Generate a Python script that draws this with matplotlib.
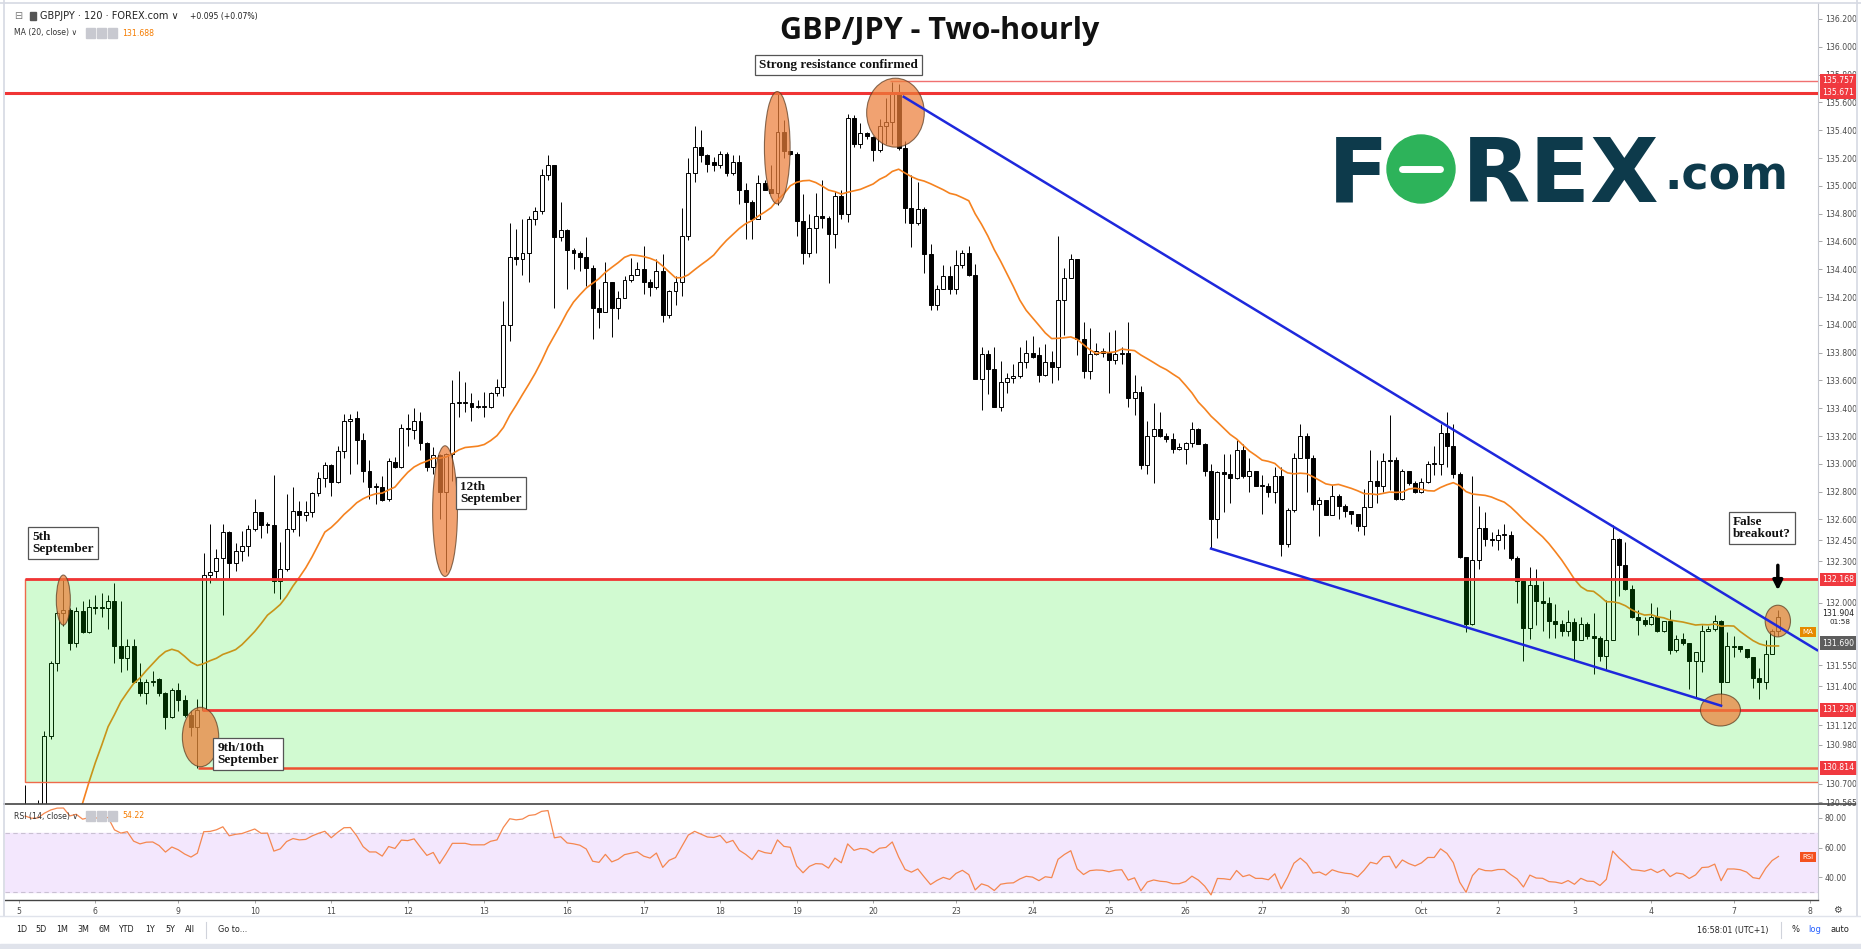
import numpy as np
import pandas as pd
import matplotlib
matplotlib.use('Agg')
import matplotlib.pyplot as plt
from matplotlib.patches import Rectangle, Ellipse
from matplotlib.lines import Line2D

# ---- data (GBPJPY, 2h bars, 5 Sep - 7 Oct) ----
opens = [
    130.40, 130.45, 130.38, 130.42, 131.04, 131.57, 131.93, 131.95, 131.71, 131.94, 131.79, 131.97,
    131.96, 131.96, 132.01, 131.69, 131.60, 131.69, 131.43, 131.35, 131.43, 131.45, 131.35, 131.18,
    131.37, 131.30, 131.19, 131.11, 131.23, 132.20, 132.23, 132.32, 132.51, 132.29, 132.37, 132.41,
    132.53, 132.65, 132.56, 132.56, 132.16, 132.24, 132.53, 132.66, 132.63, 132.65, 132.79, 132.90,
    132.99, 132.87, 133.09, 133.31, 133.33, 133.17, 132.95, 132.83, 132.83, 132.75, 133.01, 132.98,
    133.26, 133.24, 133.31, 133.15, 132.98, 133.06, 132.80, 133.07, 133.44, 133.44, 133.44, 133.41,
    133.41, 133.41, 133.51, 133.55, 134.00, 134.49, 134.47, 134.52, 134.76, 134.82, 135.08, 135.15,
    134.63, 134.68, 134.54, 134.52, 134.49, 134.41, 134.12, 134.09, 134.31, 134.12, 134.19, 134.32,
    134.36, 134.40, 134.31, 134.27, 134.39, 134.07, 134.24, 134.31, 134.64, 135.09, 135.28, 135.22,
    135.17, 135.15, 135.23, 135.09, 135.17, 134.97, 134.88, 134.76, 135.02, 134.98, 134.95, 135.39,
    135.25, 135.23, 134.75, 134.52, 134.70, 134.78, 134.77, 134.65, 134.93, 134.80, 135.49, 135.30,
    135.38, 135.35, 135.26, 135.43, 135.46, 135.67, 135.27, 134.84, 134.73, 134.83, 134.51, 134.14,
    134.26, 134.35, 134.26, 134.43, 134.52, 134.36, 133.61, 133.79, 133.68, 133.41, 133.59, 133.62,
    133.63, 133.73, 133.80, 133.78, 133.64, 133.73, 133.70, 134.18, 134.34, 134.47, 133.90, 133.67,
    133.79, 133.81, 133.80, 133.75, 133.79, 133.80, 133.47, 133.52, 132.99, 133.20, 133.25, 133.20,
    133.18, 133.11, 133.11, 133.15, 133.25, 133.14, 132.95, 132.60, 132.94, 132.93, 132.90, 133.10,
    132.91, 132.95, 132.84, 132.84, 132.80, 132.91, 132.42, 132.67, 133.04, 133.20, 133.04, 132.71,
    132.74, 132.63, 132.77, 132.70, 132.66, 132.64, 132.55, 132.69, 132.88, 132.84, 133.02, 133.03,
    132.75, 132.95, 132.86, 132.80, 132.87, 133.00, 133.00, 133.22, 133.13, 132.93, 132.33, 131.85,
    132.31, 132.54, 132.46, 132.45, 132.49, 132.49, 132.32, 132.16, 131.82, 132.13, 132.01, 132.00,
    131.87, 131.85, 131.80, 131.86, 131.73, 131.85, 131.76, 131.75, 131.62, 131.73, 132.46, 132.27,
    132.10, 131.90, 131.88, 131.85, 131.90, 131.80, 131.87, 131.66, 131.74, 131.71, 131.58, 131.58,
    131.80, 131.81, 131.87, 131.43, 131.68, 131.69, 131.67, 131.61, 131.46, 131.43, 131.63, 131.80,
]
highs = [
    130.69, 130.52, 130.58, 131.08, 131.58, 131.94, 132.17, 131.96, 131.97, 132.01, 132.03, 132.06,
    132.07, 132.06, 132.14, 132.01, 131.74, 131.74, 131.57, 131.45, 131.51, 131.46, 131.36, 131.39,
    131.42, 131.34, 131.22, 131.31, 132.36, 132.57, 132.39, 132.57, 132.52, 132.43, 132.52, 132.56,
    132.75, 132.65, 132.58, 132.92, 132.44, 132.78, 132.83, 132.73, 132.73, 132.80, 132.94, 133.01,
    133.00, 133.13, 133.36, 133.36, 133.38, 133.22, 133.03, 132.86, 132.91, 133.04, 133.05, 133.29,
    133.36, 133.40, 133.37, 133.16, 133.12, 133.07, 133.08, 133.60, 133.67, 133.59, 133.51, 133.46,
    133.52, 133.52, 133.61, 134.17, 134.73, 134.69, 134.76, 134.78, 134.85, 135.12, 135.22, 135.15,
    134.88, 134.69, 134.55, 134.53, 134.63, 134.43, 134.26, 134.45, 134.31, 134.24, 134.35, 134.48,
    134.45, 134.57, 134.33, 134.47, 134.51, 134.25, 134.35, 134.84, 135.20, 135.43, 135.40, 135.23,
    135.21, 135.25, 135.24, 135.22, 135.22, 135.02, 134.90, 135.08, 135.04, 135.15, 135.67, 135.47,
    135.25, 135.24, 134.94, 134.80, 134.95, 135.04, 134.78, 134.96, 134.97, 135.52, 135.51, 135.45,
    135.39, 135.36, 135.48, 135.63, 135.75, 135.73, 135.32, 135.08, 135.03, 134.85, 134.58, 134.29,
    134.43, 134.42, 134.54, 134.54, 134.57, 134.44, 133.84, 133.82, 133.84, 133.74, 133.65, 133.72,
    133.84, 133.89, 133.92, 133.84, 133.86, 133.81, 134.64, 134.41, 134.51, 134.47, 134.02, 133.98,
    133.87, 133.83, 133.95, 133.96, 133.84, 134.02, 133.64, 133.56, 133.31, 133.44, 133.37, 133.22,
    133.22, 133.15, 133.16, 133.30, 133.26, 133.15, 133.00, 132.95, 133.07, 133.07, 133.17, 133.14,
    133.04, 132.95, 132.92, 132.86, 132.98, 132.98, 132.68, 133.08, 133.29, 133.22, 133.06, 132.76,
    132.74, 132.85, 132.78, 132.71, 132.66, 132.64, 132.82, 133.10, 133.03, 133.08, 133.35, 133.05,
    132.96, 132.95, 132.88, 132.90, 133.02, 133.13, 133.29, 133.37, 133.29, 132.94, 132.33, 132.91,
    132.70, 132.65, 132.51, 132.53, 132.57, 132.52, 132.34, 132.16, 132.26, 132.24, 132.16, 132.04,
    131.99, 131.88, 131.95, 131.89, 131.90, 131.86, 131.93, 131.76, 132.02, 132.56, 132.47, 132.44,
    132.13, 131.95, 131.90, 132.00, 131.97, 131.87, 131.95, 131.77, 131.78, 131.71, 131.65, 131.84,
    131.83, 131.91, 131.88, 131.79, 131.76, 131.69, 131.67, 131.61, 131.53, 131.73, 131.81, 131.95,
]
lows = [
    130.25, 130.30, 130.30, 130.35, 131.02, 131.51, 131.83, 131.66, 131.68, 131.78, 131.78, 131.92,
    131.90, 131.81, 131.57, 131.50, 131.52, 131.42, 131.33, 131.27, 131.40, 131.33, 131.09, 131.17,
    131.22, 131.18, 131.04, 130.81, 131.22, 132.14, 132.17, 131.91, 132.17, 132.23, 132.30, 132.34,
    132.52, 132.47, 132.50, 132.07, 132.03, 132.23, 132.51, 132.48, 132.59, 132.62, 132.77, 132.83,
    132.77, 132.86, 133.04, 132.93, 133.00, 132.87, 132.75, 132.71, 132.73, 132.73, 132.97, 132.97,
    133.13, 133.18, 133.10, 132.95, 132.93, 132.60, 132.22, 132.88, 133.34, 133.37, 133.31, 133.40,
    133.34, 133.40, 133.49, 133.49, 133.88, 134.43, 134.36, 134.31, 134.72, 134.80, 135.04, 134.12,
    134.60, 134.26, 134.40, 134.39, 134.28, 133.90, 133.98, 134.09, 133.91, 134.04, 134.19, 134.31,
    134.36, 134.22, 134.21, 134.26, 134.02, 134.05, 134.14, 134.21, 134.61, 135.03, 135.17, 135.10,
    135.11, 135.13, 135.07, 135.08, 134.87, 134.62, 134.62, 134.76, 134.97, 134.95, 134.86, 135.20,
    135.22, 134.64, 134.44, 134.49, 134.52, 134.70, 134.30, 134.55, 134.76, 134.74, 135.28, 135.27,
    135.34, 135.18, 135.24, 135.30, 135.30, 135.26, 134.73, 134.56, 134.72, 134.37, 134.11, 134.11,
    134.26, 134.22, 134.22, 134.41, 134.35, 133.61, 133.39, 133.50, 133.41, 133.38, 133.51, 133.58,
    133.62, 133.69, 133.76, 133.59, 133.63, 133.58, 133.60, 133.93, 134.34, 133.78, 133.62, 133.61,
    133.78, 133.77, 133.51, 133.72, 133.72, 133.41, 133.35, 132.96, 132.93, 132.86, 133.19, 133.16,
    133.08, 133.10, 133.00, 133.12, 133.14, 132.91, 132.39, 132.47, 132.65, 132.72, 132.89, 132.90,
    132.80, 132.84, 132.64, 132.76, 132.72, 132.34, 132.40, 132.65, 133.04, 132.80, 132.67, 132.48,
    132.63, 132.63, 132.60, 132.62, 132.57, 132.52, 132.49, 132.71, 132.72, 132.80, 132.81, 132.74,
    132.74, 132.85, 132.79, 132.79, 132.86, 132.92, 132.92, 132.98, 132.90, 132.32, 131.79, 131.84,
    132.24, 132.41, 132.41, 132.38, 132.39, 132.31, 132.00, 131.58, 131.74, 131.84, 131.80, 131.75,
    131.75, 131.76, 131.76, 131.59, 131.73, 131.74, 131.49, 131.58, 131.52, 131.73, 132.05, 132.09,
    131.89, 131.77, 131.83, 131.84, 131.79, 131.79, 131.63, 131.65, 131.70, 131.38, 131.32, 131.50,
    131.80, 131.80, 131.26, 131.43, 131.61, 131.65, 131.60, 131.39, 131.31, 131.38, 131.63, 131.76,
]
closes = [
    130.45, 130.38, 130.42, 131.04, 131.57, 131.93, 131.95, 131.71, 131.94, 131.79, 131.97, 131.96,
    131.96, 132.01, 131.69, 131.60, 131.69, 131.43, 131.35, 131.43, 131.44, 131.35, 131.18, 131.37,
    131.30, 131.19, 131.11, 131.23, 132.20, 132.22, 132.32, 132.51, 132.29, 132.37, 132.41, 132.53,
    132.65, 132.56, 132.57, 132.16, 132.24, 132.53, 132.66, 132.63, 132.65, 132.79, 132.90, 132.99,
    132.87, 133.09, 133.31, 133.32, 133.17, 132.95, 132.83, 132.83, 132.74, 133.02, 132.98, 133.26,
    133.25, 133.31, 133.15, 132.98, 133.06, 132.80, 133.07, 133.44, 133.44, 133.44, 133.41, 133.41,
    133.41, 133.51, 133.55, 134.00, 134.49, 134.47, 134.52, 134.76, 134.82, 135.08, 135.15, 134.63,
    134.68, 134.54, 134.52, 134.49, 134.41, 134.12, 134.09, 134.31, 134.12, 134.19, 134.32, 134.36,
    134.40, 134.31, 134.27, 134.39, 134.07, 134.24, 134.31, 134.64, 135.09, 135.28, 135.22, 135.16,
    135.15, 135.23, 135.09, 135.17, 134.97, 134.88, 134.76, 135.02, 134.97, 134.95, 135.39, 135.25,
    135.23, 134.75, 134.52, 134.70, 134.78, 134.77, 134.65, 134.93, 134.80, 135.49, 135.30, 135.38,
    135.36, 135.26, 135.43, 135.46, 135.67, 135.27, 134.84, 134.73, 134.83, 134.51, 134.14, 134.26,
    134.35, 134.26, 134.43, 134.52, 134.36, 133.61, 133.79, 133.68, 133.41, 133.59, 133.62, 133.63,
    133.73, 133.80, 133.77, 133.64, 133.73, 133.70, 134.18, 134.34, 134.47, 133.90, 133.67, 133.79,
    133.81, 133.80, 133.75, 133.79, 133.80, 133.47, 133.52, 132.99, 133.20, 133.25, 133.20, 133.18,
    133.11, 133.11, 133.15, 133.25, 133.14, 132.95, 132.60, 132.94, 132.93, 132.90, 133.10, 132.91,
    132.95, 132.84, 132.84, 132.80, 132.91, 132.42, 132.67, 133.04, 133.20, 133.04, 132.71, 132.74,
    132.63, 132.77, 132.70, 132.66, 132.64, 132.55, 132.69, 132.88, 132.84, 133.02, 133.03, 132.75,
    132.95, 132.86, 132.80, 132.87, 133.00, 133.00, 133.22, 133.13, 132.93, 132.33, 131.85, 132.31,
    132.54, 132.46, 132.45, 132.49, 132.49, 132.32, 132.16, 131.82, 132.13, 132.01, 132.00, 131.87,
    131.85, 131.80, 131.86, 131.73, 131.85, 131.76, 131.75, 131.62, 131.73, 132.46, 132.27, 132.10,
    131.90, 131.88, 131.85, 131.90, 131.80, 131.87, 131.66, 131.74, 131.71, 131.58, 131.65, 131.80,
    131.81, 131.87, 131.43, 131.69, 131.69, 131.67, 131.61, 131.46, 131.43, 131.63, 131.80, 131.90,
]
# closes before the visible window (needed for MA/RSI warm-up)
pre_closes = [127.70, 128.00, 127.85, 128.20, 128.05, 128.40, 128.25, 128.65, 128.50,
              128.95, 129.15, 129.45, 129.35, 129.95, 129.75, 130.35, 130.15, 130.55, 130.35]

day_pos = [-1, 11, 24, 36, 48, 60, 72, 85, 97, 109, 121, 133, 146, 158, 170, 182, 194,
           207, 219, 231, 243, 255, 268, 280]
day_labels = ['5', '6', '9', '10', '11', '12', '13', '16', '17', '18', '19', '20', '23', '24',
              '25', '26', '27', '30', 'Oct', '2', '3', '4', '7', '8']
price_ticks = [136.2, 136.0, 135.8, 135.6, 135.4, 135.2, 135.0, 134.8, 134.6, 134.4, 134.2,
               134.0, 133.8, 133.6, 133.4, 133.2, 133.0, 132.8, 132.6, 132.45, 132.3, 132.0,
               131.55, 131.4, 131.12, 130.98, 130.7, 130.565]
levels = {'135.757': 135.757, '135.671': 135.671, '132.168': 132.168,
          '131.230': 131.230, '130.814': 130.814}

W, H = 1861, 949


def rect(x0, y0, x1, y1):
    return [x0 / W, 1 - y1 / H, (x1 - x0) / W, (y1 - y0) / H]


def fx(px):
    return px / W


def fy(py):
    return 1 - py / H


fig = plt.figure(figsize=(W / 100, H / 100), dpi=100)
fig.patch.set_facecolor('white')

ax = fig.add_axes(rect(5, 3, 1818, 804))
rax = fig.add_axes(rect(5, 804, 1818, 900), sharex=ax)

o = np.array(opens); h = np.array(highs); l = np.array(lows); c = np.array(closes)
x = np.arange(len(c))
up = c >= o

# candles
ax.vlines(x, l, h, color='black', lw=0.7, zorder=2)
ax.bar(x, np.maximum(np.abs(c - o), 0.008), bottom=np.minimum(o, c), width=0.62,
       color=np.where(up, 'white', 'black'), edgecolor='black', linewidth=0.7, zorder=3)

# MA 20 / RSI 14 computed on closes
allc = pd.Series(pre_closes + closes)
ma = allc.rolling(20).mean().values[len(pre_closes):]
ax.plot(x, ma, color='#f5821f', lw=1.2, zorder=4)

d = allc.diff()
ag = d.clip(lower=0).ewm(alpha=1 / 14, adjust=False).mean()
al = (-d.clip(upper=0)).ewm(alpha=1 / 14, adjust=False).mean()
rsi = (100 - 100 / (1 + ag / al)).values[len(pre_closes):]

# green zone
ax.add_patch(Rectangle((0, 130.71), 400, levels['132.168'] - 130.71, facecolor=(0, 0.9, 0, 0.18),
                       edgecolor='#ee6a4a', lw=1, zorder=5))
# horizontal levels
ax.hlines(levels['135.671'], -5, 300, color='#f03535', lw=2.2, zorder=6)
ax.hlines(levels['135.757'], 135.7, 300, color='#f07070', lw=1.0, zorder=6)
ax.hlines(levels['132.168'], 0, 300, color='#f03535', lw=2.0, zorder=6)
ax.hlines(levels['131.230'], 27.7, 300, color='#f03535', lw=2.0, zorder=6)
ax.hlines(levels['130.814'], 27.1, 300, color='#ee5030', lw=1.8, zorder=6)

# highlight ellipses
ells = [(5.98, 132.02, 2.2, 0.36), (27.5, 131.035, 5.7, 0.427), (65.85, 132.66, 3.9, 0.94),
        (117.96, 135.274, 4.03, 0.808), (136.5, 135.526, 9.04, 0.496),
        (265.9, 131.229, 6.27, 0.23), (274.9, 131.869, 3.97, 0.228)]
for ex, ey, ew, eh in ells:
    ax.add_patch(Ellipse((ex, ey), ew, eh, facecolor='#ec7f3a', alpha=0.72,
                         edgecolor='#5a3a20', lw=0.8, zorder=7))

# wedge trendlines
ax.plot([137.8, 281.06], [135.64, 131.66], color='#1e28dc', lw=1.8, zorder=8)
ax.plot([186, 266], [132.39, 131.26], color='#1e28dc', lw=1.8, zorder=8)

# notes
def note(xx, yy, s):
    ax.text(xx, yy, s, family='Liberation Serif', weight='bold', fontsize=9.5, ha='left',
            va='top', linespacing=1.0, color='#111111', zorder=10,
            bbox=dict(boxstyle='square,pad=0.3', fc='white', ec='#555555', lw=0.9))

note(1.1, 132.515, '5th\nSeptember')
note(30.13, 130.997, '9th/10th\nSeptember')
note(68.25, 132.874, '12th\nSeptember')
note(115.15, 135.91, 'Strong resistance confirmed')
note(267.9, 132.623, 'False\nbreakout?')
ax.annotate('', xy=(274.9, 132.07), xytext=(274.9, 132.29),
            arrowprops=dict(arrowstyle='-|>', color='black', lw=2.5, mutation_scale=14), zorder=10)

ax.set_xlim(-3.17, 281.2)
ax.set_ylim(130.553, 136.315)
for s in ['top', 'left', 'bottom']:
    ax.spines[s].set_visible(False)
ax.spines['right'].set_color('#c5c8d0')
ax.yaxis.tick_right()
ax.set_yticks(price_ticks)
ax.set_yticklabels([f'{v:.3f}' for v in price_ticks])
ax.tick_params(axis='y', length=3, width=0.6, color='#999999', labelsize=5.6,
               labelcolor='#4a4a4a', pad=2)
ax.tick_params(axis='x', bottom=False, labelbottom=False)

# price labels on axis
for txt, v in levels.items():
    ax.annotate(txt, xy=(1, v), xycoords=ax.get_yaxis_transform(), xytext=(3, 0),
                textcoords='offset points', ha='left', va='center', fontsize=5.6, color='white',
                annotation_clip=False, zorder=11,
                bbox=dict(boxstyle='square,pad=0.3', fc='#f0393f', ec='none'))
ax.annotate('131.690', xy=(1, 131.71), xycoords=ax.get_yaxis_transform(), xytext=(3, 0),
            textcoords='offset points', ha='left', va='center', fontsize=5.6, color='white',
            annotation_clip=False, zorder=11,
            bbox=dict(boxstyle='square,pad=0.3', fc='#5d5d5d', ec='none'))
ax.annotate('131.904', xy=(1, 131.92), xycoords=ax.get_yaxis_transform(), xytext=(3, 0),
            textcoords='offset points', ha='left', va='center', fontsize=5.6, color='#222222',
            annotation_clip=False, zorder=11,
            bbox=dict(boxstyle='square,pad=0.3', fc='white', ec='none'))
ax.annotate('01:58', xy=(1, 131.86), xycoords=ax.get_yaxis_transform(), xytext=(8, 0),
            textcoords='offset points', ha='left', va='center', fontsize=5.2, color='#222222',
            annotation_clip=False, zorder=11)

# RSI panel
rax.axhspan(30, 70, color='#f3e7fd', zorder=1)
rax.axhline(70, color='#c9c0d3', lw=0.8, ls=(0, (4, 3)), zorder=2)
rax.axhline(30, color='#c9c0d3', lw=0.8, ls=(0, (4, 3)), zorder=2)
rax.plot(x, rsi, color='#f5874f', lw=0.9, zorder=3)
rax.set_ylim(24.8, 89.2)
rax.yaxis.tick_right()
rax.set_yticks([40, 60, 80])
rax.set_yticklabels(['40.00', '60.00', '80.00'])
rax.tick_params(axis='y', length=3, width=0.6, color='#999999', labelsize=5.6,
                labelcolor='#4a4a4a', pad=2)
rax.set_xticks(day_pos)
rax.set_xticklabels(day_labels)
rax.tick_params(axis='x', length=2, width=0.6, color='#999999', labelsize=5.6,
                labelcolor='#4a4a4a', pad=3)
for s in ['top', 'left']:
    rax.spines[s].set_visible(False)
rax.spines['right'].set_color('#c5c8d0')
rax.spines['bottom'].set_color('#444444')
rax.spines['bottom'].set_linewidth(1.0)

# frame lines
fig.add_artist(Line2D([fx(4), fx(1856)], [fy(804), fy(804)], color='#444444', lw=1.2))
fig.add_artist(Line2D([fx(4), fx(4)], [fy(0), fy(916)], color='#d6d9e3', lw=1.2))
fig.add_artist(Line2D([fx(1857), fx(1857)], [fy(0), fy(916)], color='#d6d9e3', lw=1.2))
fig.add_artist(Line2D([0, 1], [fy(2.5), fy(2.5)], color='#d6d9e3', lw=1.2))
fig.add_artist(Line2D([0, 1], [fy(916), fy(916)], color='#e0e3eb', lw=1.0))
fig.add_artist(Rectangle((0, 0), 1, 5 / H, transform=fig.transFigure, color='#e0e3eb'))

# small labels inside plot
fig.text(fx(1808), fy(632), 'MA', fontsize=5, color='white', ha='center', va='center',
         bbox=dict(boxstyle='square,pad=0.35', fc='#e68a00', ec='none'))
fig.text(fx(1808), fy(857), 'RSI', fontsize=5, color='white', ha='center', va='center',
         bbox=dict(boxstyle='square,pad=0.35', fc='#f4511e', ec='none'))

# header texts
fig.text(fx(14), fy(16), '⊟', fontsize=7, color='#777777', va='center')
fig.add_artist(Rectangle((fx(30), fy(20)), 6 / W, 8 / H, transform=fig.transFigure,
                         color='#555555'))
fig.text(fx(40), fy(16), 'GBPJPY · 120 · FOREX.com ∨', fontsize=7, color='#222222', va='center')
fig.text(fx(190), fy(16), '+0.095 (+0.07%)', fontsize=5.6, color='#222222', va='center')
for row_y, lab, val, valx in [(33, 'MA (20, close) ∨', '131.688', 122),
                              (816, 'RSI (14, close) ∨', '54.22', 122)]:
    fig.text(fx(14), fy(row_y), lab, fontsize=5.6, color='#333333', va='center')
    for k in range(3):
        fig.add_artist(Rectangle((fx(86 + k * 11), fy(row_y + 5)), 9 / W, 10 / H,
                                 transform=fig.transFigure, color='#c8c9d0'))
    fig.text(fx(valx), fy(row_y), val, fontsize=5.6, color='#f57c00', va='center')

# title
fig.text(fx(940), fy(31), 'GBP/JPY - Two-hourly', fontsize=22, weight='bold', family='Open Sans',
         ha='center', va='center', color='#111111')

# FOREX.com logo
navy = '#0d3a4b'
fig.text(fx(1328), fy(202), 'F', fontsize=64, weight='heavy', family='DejaVu Sans', color=navy,
         va='baseline')
fig.add_artist(Ellipse((fx(1421), fy(169)), 68 / W, 68 / H, transform=fig.transFigure,
                       color='#2db35a'))
fig.add_artist(Line2D([fx(1402), fx(1440)], [fy(169), fy(169)], color='white', lw=5,
                      solid_capstyle='round'))
fig.text(fx(1462), fy(202), 'REX', fontsize=64, weight='heavy', family='DejaVu Sans', color=navy,
         va='baseline')
fig.text(fx(1664), fy(190), '.com', fontsize=33, weight='heavy', family='DejaVu Sans',
         color=navy, va='baseline')

# bottom toolbar
for lab, px in [('1D', 22), ('5D', 41.5), ('1M', 62), ('3M', 83), ('6M', 104), ('YTD', 126),
                ('1Y', 150), ('5Y', 170), ('All', 190), ('Go to...', 233)]:
    fig.text(fx(px), fy(930), lab, fontsize=5.8, color='#222222', ha='center', va='center')
fig.add_artist(Line2D([fx(206), fx(206)], [fy(922), fy(938)], color='#d0d3db', lw=0.8))
fig.add_artist(Line2D([fx(1781), fx(1781)], [fy(922), fy(938)], color='#d0d3db', lw=0.8))
fig.text(fx(1733), fy(930), '16:58:01 (UTC+1)', fontsize=5.8, color='#222222', ha='center',
         va='center')
fig.text(fx(1796), fy(930), '%', fontsize=6, color='#222222', ha='center', va='center')
fig.text(fx(1815), fy(930), 'log', fontsize=6, color='#2962ff', ha='center', va='center')
fig.text(fx(1840), fy(930), 'auto', fontsize=6, color='#222222', ha='center', va='center')
fig.text(fx(1837), fy(910), '⚙', fontsize=7, color='#444444', ha='center', va='center')

fig.savefig('out.png', dpi=100)
